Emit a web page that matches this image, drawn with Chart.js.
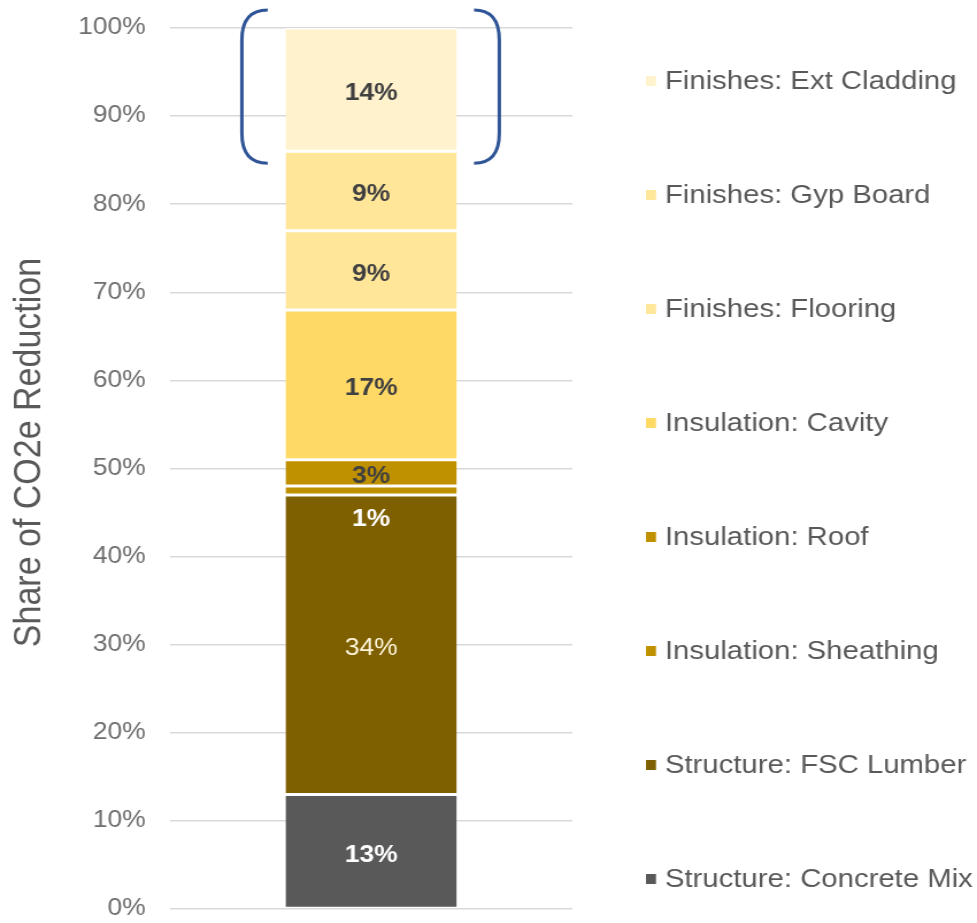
<!DOCTYPE html>
<html>
<head>
<meta charset="utf-8">
<title>Share of CO2e Reduction</title>
<script src="https://cdn.jsdelivr.net/npm/chart.js@4.4.1/dist/chart.umd.min.js"></script>
<style>
  html, body { margin: 0; padding: 0; background: #ffffff; overflow: hidden; }
  /* drawn narrow and widened, so the type comes out broad like the original slide */
  #chart { display: block; transform-origin: 0 0; transform: scaleX(1.1494); }
</style>
</head>
<body>
<canvas id="chart" width="850" height="923"></canvas>
<script>
// one stacked column, segments listed bottom to top
let categories = ['CO2e Reduction'];
let seriesNames = [
    'Structure: Concrete Mix',
    'Structure: FSC Lumber',
    'Insulation: Sheathing',
    'Insulation: Roof',
    'Insulation: Cavity',
    'Finishes: Flooring',
    'Finishes: Gyp Board',
    'Finishes: Ext Cladding'
];
let shares = [13, 34, 1, 3, 17, 9, 9, 14];
let yTicks = [0, 10, 20, 30, 40, 50, 60, 70, 80, 90, 100];
let yTitle = 'Share of CO2e Reduction';

let fillColors = ['#595959', '#7f6000', '#bf9000', '#bf9000', '#ffd966', '#ffe699', '#ffe699', '#fff2cc'];
let labelColors = ['#ffffff', '#fff6dc', '#ffffff', '#404040', '#404040', '#404040', '#404040', '#404040'];
let labelBold = [true, false, true, true, true, true, true, true];

const FONT = '"Liberation Sans", Arial, Helvetica, sans-serif';
const TITLE_BOX = 68;   // room kept left of the tick labels for the axis title

// percentage written inside each segment; slivers get theirs just underneath
const segmentLabels = {
    id: 'segmentLabels',
    afterDatasetsDraw(chart) {
        let ctx = chart.ctx;
        chart.data.datasets.forEach((ds, i) => {
            let el = chart.getDatasetMeta(i).data[0];
            let h = el.base - el.y;
            let y = (el.y + el.base) / 2;
            if (h < 16) y = el.base + 21;
            ctx.save();
            ctx.font = (labelBold[i] ? 'bold ' : '') + '23px ' + FONT;
            ctx.fillStyle = labelColors[i];
            ctx.textAlign = 'center';
            ctx.textBaseline = 'middle';
            ctx.fillText(ds.data[0] + '%', el.x, y + 4);
            ctx.restore();
        });
    }
};

// round brackets around the top segment
const topBracket = {
    id: 'topBracket',
    afterDatasetsDraw(chart) {
        let ctx = chart.ctx;
        let last = chart.data.datasets.length - 1;
        let el = chart.getDatasetMeta(last).data[0];
        let left = el.x - el.width / 2;
        let right = el.x + el.width / 2;
        let top = el.y - 18;
        let bottom = el.base + 12;
        let r = 30;
        ctx.save();
        ctx.strokeStyle = '#2f5597';
        ctx.lineWidth = 3;
        ctx.lineCap = 'butt';
        [[left - 15.5, left - 38], [right + 15, right + 37]].forEach(([xEnd, xOut]) => {
            ctx.beginPath();
            ctx.moveTo(xEnd, top);
            ctx.quadraticCurveTo(xOut, top, xOut, top + r);
            ctx.lineTo(xOut, bottom - r);
            ctx.quadraticCurveTo(xOut, bottom, xEnd, bottom);
            ctx.stroke();
        });
        ctx.restore();
    }
};

// rotated y axis title, sitting a little above the middle of the plot
const axisTitle = {
    id: 'axisTitle',
    afterDraw(chart) {
        let ctx = chart.ctx;
        let area = chart.chartArea;
        ctx.save();
        ctx.translate(25.4, (area.top + area.bottom) / 2 - 16);
        ctx.rotate(-Math.PI / 2);
        ctx.font = '34px ' + FONT;
        ctx.fillStyle = '#595959';
        ctx.textAlign = 'center';
        ctx.textBaseline = 'middle';
        ctx.fillText(yTitle, 0, 0);
        ctx.restore();
    }
};

// legend on the right, top entry = top segment, spread down the full height
const sideLegend = {
    id: 'sideLegend',
    afterDraw(chart) {
        let ctx = chart.ctx;
        let x = chart.chartArea.right + 64;
        let y0 = chart.chartArea.top + 53;
        let step = 114;
        ctx.save();
        ctx.font = '25.5px ' + FONT;
        ctx.textBaseline = 'middle';
        ctx.textAlign = 'left';
        for (let k = 0; k < seriesNames.length; k++) {
            let i = seriesNames.length - 1 - k;
            let y = y0 + k * step;
            ctx.fillStyle = fillColors[i];
            ctx.fillRect(x, y - 5, 8.7, 10);
            ctx.fillStyle = '#595959';
            ctx.fillText(seriesNames[i], x + 16.5, y + 1);
        }
        ctx.restore();
    }
};

let datasets = seriesNames.map((name, i) => ({
    label: name,
    data: [shares[i]],
    backgroundColor: fillColors[i],
    borderColor: '#ffffff',
    borderWidth: {top: 1.5, bottom: 1.5, left: 0, right: 0},
    borderSkipped: false,
    categoryPercentage: 1,
    barPercentage: 0.4255
}));

new Chart(document.getElementById('chart'), {
    type: 'bar',
    data: {
        labels: categories,
        datasets: datasets
    },
    options: {
        responsive: false,
        animation: false,
        devicePixelRatio: 1,
        layout: {
            padding: {top: 28, bottom: 14, left: TITLE_BOX, right: 352}
        },
        plugins: {
            legend: {display: false},
            tooltip: {enabled: false}
        },
        scales: {
            x: {
                stacked: true,
                display: false
            },
            y: {
                stacked: true,
                min: 0,
                max: 100,
                afterBuildTicks: (scale) => {
                    scale.ticks = yTicks.map(v => ({value: v}));
                },
                ticks: {
                    padding: 0,
                    color: '#6e6e6e',
                    font: {family: FONT, size: 23},
                    callback: v => v + '%'
                },
                grid: {
                    color: '#d9d9d9',
                    lineWidth: 1.5,
                    drawTicks: true,
                    tickLength: 21,
                    tickColor: 'rgba(0,0,0,0)'
                },
                border: {display: false}
            }
        }
    },
    plugins: [segmentLabels, topBracket, axisTitle, sideLegend]
});
</script>
</body>
</html>
